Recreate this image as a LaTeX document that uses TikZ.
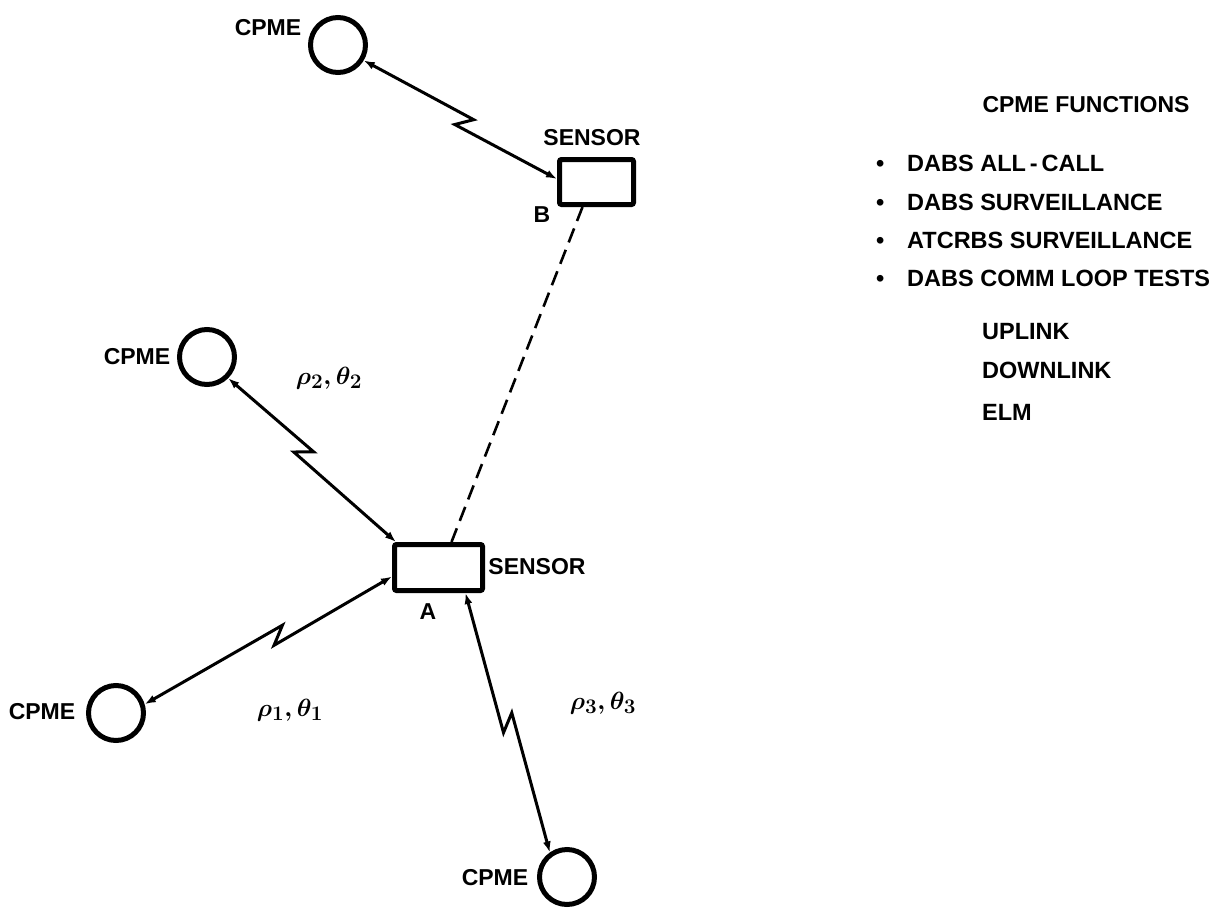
\documentclass[tikz,border=0pt]{standalone}
\usepackage{fontspec}
\setmainfont{Liberation Sans}
\usetikzlibrary{arrows.meta,calc}
\begin{document}
\begin{tikzpicture}[x=1pt,y=-1pt,
  cpme/.style={circle,draw,line width=5pt,minimum size=55pt,inner sep=0pt},
  sensor/.style={rectangle,draw,line width=5pt,rounded corners=2pt,inner sep=0pt},
  lbl/.style={font=\fontsize{23}{26}\selectfont\bfseries,inner sep=0pt},
  link/.style={line width=3pt,line join=miter,{Latex[length=11pt,width=8pt]}-{Latex[length=11pt,width=8pt]}},
  dashlink/.style={line width=2.6pt,dash pattern=on 15pt off 8pt},
  greek/.style={font=\fontsize{28}{30}\selectfont\boldmath,inner sep=0pt},
  item/.style={font=\fontsize{23.5}{26}\selectfont\bfseries,anchor=west,inner sep=0pt}]
\useasboundingbox (0,0) rectangle (1224,908);

% CPME circles and sensors
\node[cpme] (cT) at (338,45) {};
\node[cpme] (c2) at (207,357) {};
\node[cpme] (c1) at (116,713) {};
\node[cpme] (c3) at (567,877) {};
\node[sensor,minimum width=74pt,minimum height=45pt] (sB) at (596.5,182) {};
\node[sensor,minimum width=88pt,minimum height=46pt] (sA) at (438.5,567.5) {};

% connector end points on the sensors
\coordinate (bIn) at ([yshift=3pt]sB.west);
\coordinate (aN) at ([xshift=4pt]sA.north west);
\coordinate (aW) at ([yshift=-9pt]sA.west);
\coordinate (aS) at ([xshift=27pt]sA.south);
\coordinate (bS) at ([xshift=-14pt]sB.south);
\coordinate (aNd) at ([xshift=13pt]sA.north);

% zigzag points
\coordinate (zT1) at ($(cT.-31)!0.55!(bIn)!7pt!90:(bIn)$);
\coordinate (zT2) at ($(cT.-31)!0.49!(bIn)!7pt!-90:(bIn)$);
\coordinate (z21) at ($(c2.-45)!0.48!(aN)!7pt!90:(aN)$);
\coordinate (z22) at ($(c2.-45)!0.42!(aN)!7pt!-90:(aN)$);
\coordinate (z11) at ($(c1.17)!0.57!(aW)!7pt!90:(aW)$);
\coordinate (z12) at ($(c1.17)!0.51!(aW)!7pt!-90:(aW)$);
\coordinate (z31) at ($(aS)!0.53!(c3.125)!7pt!-90:(c3.125)$);
\coordinate (z32) at ($(aS)!0.47!(c3.125)!7pt!90:(c3.125)$);

% links
\draw[link] (cT.-31) -- (zT1) -- (zT2) -- (bIn);
\draw[link] (c2.-45) -- (z21) -- (z22) -- (aN);
\draw[link] (c1.17) -- (z11) -- (z12) -- (aW);
\draw[link] (aS) -- (z31) -- (z32) -- (c3.125);
\draw[dashlink] (bS) -- (aNd);

% labels
\node[lbl] (lT) at (268,28) {CPME};
\node[lbl] (lB) at (592,138) {SENSOR};
\node[lbl] (lBB) at (542,215) {B};
\node[lbl] (l2) at (137,357) {CPME};
\node[greek] (g2) at (329,378) {$\rho_2,\theta_2$};
\node[lbl] (lA) at (537,567) {SENSOR};
\node[lbl] (lAA) at (428,612) {A};
\node[lbl] (l1) at (42,712) {CPME};
\node[greek] (g1) at (290,710) {$\rho_1,\theta_1$};
\node[lbl] (l3) at (495,878) {CPME};
\node[greek] (g3) at (603,703) {$\rho_3,\theta_3$};

% function list
\node[lbl] (fh) at (1086,105) {CPME FUNCTIONS};
\node[item] (f1) at (876,163) {\makebox[31pt][l]{\textbullet}DABS ALL\,-\,CALL};
\node[item] (f2) at (876,202) {\makebox[31pt][l]{\textbullet}DABS SURVEILLANCE};
\node[item] (f3) at (876,240) {\makebox[31pt][l]{\textbullet}ATCRBS SURVEILLANCE};
\node[item] (f4) at (876,278) {\makebox[31pt][l]{\textbullet}DABS COMM LOOP TESTS};
\node[item] (f5) at (982,332) {UPLINK};
\node[item] (f6) at (982,370) {DOWNLINK};
\node[item] (f7) at (982,412) {ELM};
\end{tikzpicture}
\end{document}
